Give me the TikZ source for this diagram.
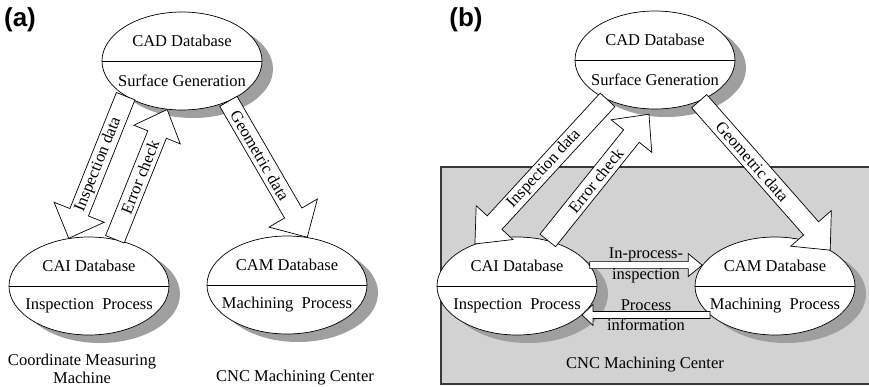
\documentclass[tikz,border=0pt]{standalone}
\usepackage{fontspec}
\setmainfont{Liberation Serif}
\setsansfont{Liberation Sans}
\usetikzlibrary{calc,shapes.geometric,shadows}
\tikzset{
  db/.style={ellipse, draw, fill=white, line width=0.7pt, minimum width=160pt,
    minimum height=98pt, inner sep=0pt,
    drop shadow={shadow xshift=11pt, shadow yshift=-8pt, fill=gray!75, opacity=1}},
  blk/.style={draw, fill=white, line width=0.7pt, line join=miter},
  tag/.style={font=\sffamily\bfseries\fontsize{26}{30}\selectfont},
  cell/.style={black},
}
% block arrow: from, to, shaft half width, head half width, head length, label pos, label
\newcommand{\blockarrow}[7]{%
  \coordinate (ba-s) at (#1);
  \coordinate (ba-e) at (#2);
  \coordinate (ba-b) at ($(ba-e)!#5!(ba-s)$);
  \draw[blk] ($(ba-s)!#3!90:(ba-e)$) -- ($(ba-b)!#3!90:(ba-e)$)
    -- ($(ba-b)!#4!90:(ba-e)$) -- (ba-e) -- ($(ba-b)!#4!-90:(ba-e)$)
    -- ($(ba-b)!#3!-90:(ba-e)$) -- ($(ba-s)!#3!-90:(ba-e)$) -- cycle;
  \path (ba-s) -- (ba-e) node[pos=#6, sloped, align=center, inner sep=1pt] {#7};
}

\begin{document}
\begin{tikzpicture}[x=1pt, y=-1pt, font=\fontsize{16.5}{20.5}\selectfont]
  \useasboundingbox (0,0) rectangle (869,386);
  % machining center box of (b)
  \draw[draw=gray!45!black, line width=1.3pt, fill=gray!35] (441,167) rectangle (875,384);

  % (a) separate machines
  \node[tag] (taga) at (20,20) {(a)};
  \node[db] (cada) at (182,61) {};
  \node[db] (caia) at (89,286) {};
  \node[db] (cama) at (287,285) {};
  \node (cmm) at (82,369) [align=center, inner sep=0pt, font=\fontsize{16.5}{18}\selectfont] {Coordinate Measuring\\Machine};
  \node (cnca) at (295,378) {CNC Machining Center};

  % (b) integrated machining center
  \node[tag] (tagb) at (466,20) {(b)};
  \node[db] (cadb) at (655,60) {};
  \node[db] (caib) at (517,286) {};
  \node[db] (camb) at (775,286) {};
  \node (cncb) at (645,365) {CNC Machining Center};

  % database texts and dividers
  \foreach \n/\top/\bot in {cada/CAD Database/Surface Generation,
      cadb/CAD Database/Surface Generation,
      caia/CAI Database/Inspection~~Process,
      caib/CAI Database/Inspection~~Process,
      cama/CAM Database/Machining~~Process,
      camb/CAM Database/Machining~~Process}{
    \draw[line width=0.7pt] (\n.west) -- (\n.east);
    \node[cell] at ([yshift=20pt]\n.center) {\top};
    \node[cell] at ([yshift=-20pt]\n.center) {\bot};
  }

  % data flow of (a)
  \blockarrow{cada.212}{caia.113}{10pt}{27pt}{28pt}{0.48}{Inspection data}
  \blockarrow{caia.61}{cada.253}{10pt}{25pt}{27pt}{0.48}{Error check}
  \blockarrow{cada.-41}{cama.67}{10pt}{28pt}{28pt}{0.40}{Geometric data}

  % data flow of (b)
  \blockarrow{cadb.220}{caib.135}{10pt}{25pt}{29pt}{0.48}{Inspection data}
  \blockarrow{caib.56}{[yshift=-5pt]cadb.-97}{10pt}{26pt}{28pt}{0.475}{Error check}
  \blockarrow{cadb.-43}{camb.33}{10pt}{27pt}{29pt}{0.405}{Geometric data}
  \blockarrow{caib.16}{camb.164}{3.5pt}{11.5pt}{14pt}{0.5}{In-process-\\inspection}
  \blockarrow{camb.204}{caib.-24}{3.5pt}{10.5pt}{11pt}{0.5}{Process\\information}
\end{tikzpicture}
\end{document}
